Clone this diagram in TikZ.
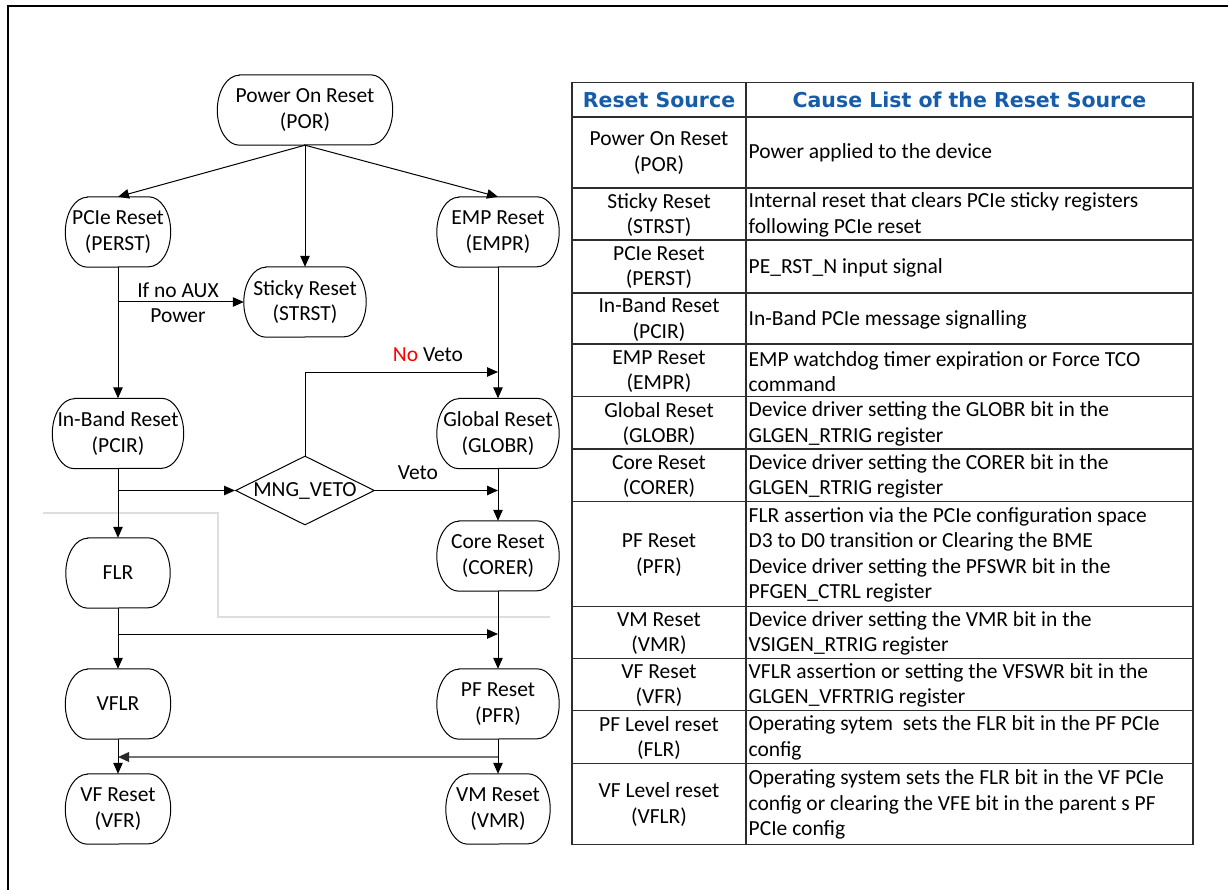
\documentclass[tikz,border=0pt]{standalone}
\usepackage{fontspec}
\setmainfont{Carlito}
\newfontfamily\hdrfont{DejaVu Sans}
\usetikzlibrary{shapes.geometric,arrows.meta}
\definecolor{hdrblue}{RGB}{22,92,168}
\definecolor{tblline}{RGB}{45,45,45}
\definecolor{faintgray}{RGB}{222,222,222}
\definecolor{midgray}{RGB}{115,115,115}
\definecolor{tipgray}{RGB}{40,40,40}
\begin{document}
\begin{tikzpicture}[x=1pt,y=-1pt,
  every node/.style={font=\fontsize{21.5}{25.3}\selectfont},
  tbox/.style={draw=none, minimum height=70pt, inner sep=0pt, align=center},
  outline/.style={line width=1pt},
  conn/.style={line width=1pt, -{Triangle[length=11pt,width=9.5pt]}},
  grayconn/.style={line width=1.8pt, draw=midgray, -{Triangle[length=11pt,width=9.5pt,color=tipgray]}},
  faint/.style={line width=1.6pt, draw=faintgray},
  tbl/.style={line width=1.1pt, draw=tblline},
  cellA/.style={align=center, inner sep=0pt},
  cellB/.style={align=left, anchor=west, inner sep=0pt},
  hdr/.style={font=\hdrfont\bfseries\fontsize{20.5}{24}\selectfont, text=hdrblue, inner sep=0pt}
]
\useasboundingbox (0,0) rectangle (1228,890);
% frame
\draw[line width=2pt] (1228,6) -- (8,6) -- (8,890);

% faint gray polyline
\draw[faint] (43,513) -- (218,513) -- (218,617) -- (550,617);

% ---------- flow nodes ----------
\node[tbox, minimum width=175pt] (por) at (305,110) {Power On Reset\\(POR)};
\node[tbox, minimum width=105pt] (perst) at (118,232) {PCIe Reset\\(PERST)};
\node[tbox, minimum width=122pt] (strst) at (305,302) {Sticky Reset\\(STRST)};
\node[tbox, minimum width=122pt] (empr) at (498,232) {EMP Reset\\(EMPR)};
\node[tbox, minimum width=131pt] (pcir) at (118,433.5) {In-Band Reset\\(PCIR)};
\node[tbox, minimum width=122pt] (globr) at (498,433.5) {Global Reset\\(GLOBR)};
\node[draw, diamond, aspect=2, minimum width=139pt, minimum height=69pt, inner sep=0pt, line width=1pt] (veto) at (305,490.5) {MNG\_VETO};
\node[tbox, minimum width=104pt] (flr) at (118,573) {FLR};
\node[tbox, minimum width=122pt] (corer) at (498,556) {Core Reset\\(CORER)};
\node[tbox, minimum width=105pt] (vflr) at (118,704) {VFLR};
\node[tbox, minimum width=122pt] (pfr) at (498,704) {PF Reset\\(PFR)};
\node[tbox, minimum width=105pt] (vfr) at (118,809) {VF Reset\\(VFR)};
\node[tbox, minimum width=104pt] (vmr) at (498,809) {VM Reset\\(VMR)};

\foreach \n in {por,perst,strst,empr,pcir,globr,flr,corer,vflr,pfr,vfr,vmr}{
  \draw[outline] ([xshift=22pt]\n.north west) -- ([xshift=-22pt]\n.north east)
    arc[start angle=90,end angle=-90,x radius=22pt,y radius=35pt]
    -- ([xshift=22pt]\n.south west)
    arc[start angle=270,end angle=90,x radius=22pt,y radius=35pt] -- cycle;
}

% junction coordinates
\coordinate (aux) at (118,302);
\coordinate (vetoin) at (118,490.5);
\coordinate (nv1) at (305,372);
\coordinate (nv2) at (498,372);
\coordinate (vetoend) at (498,490.5);
\coordinate (flrsplit) at (118,634);
\coordinate (pfend) at (498,634);
\coordinate (pfsplit) at (498,757);
\coordinate (vfend) at (118,757);

% ---------- connectors ----------
\draw[conn] (por.south) -- (perst.north);
\draw[conn] (por.south) -- (strst.north);
\draw[conn] (por.south) -- (empr.north);
\draw[conn] (perst.south) -- (pcir.north);
\draw[conn] (aux) -- (strst.west);
\draw[conn] (empr.south) -- (globr.north);
\draw[conn] (pcir.south) -- (flr.north);
\draw[conn] (vetoin) -- (veto.west);
\draw[conn] (veto.north) -- (nv1) -- (nv2);
\draw[conn] (veto.east) -- (vetoend);
\draw[conn] (globr.south) -- (corer.north);
\draw[conn] (flr.south) -- (vflr.north);
\draw[conn] (flrsplit) -- (pfend);
\draw[conn] (corer.south) -- (pfr.north);
\draw[conn] (pfr.south) -- (vmr.north);
\draw[conn] (vflr.south) -- (vfr.north);
\draw[grayconn] (pfsplit) -- (vfend);

% labels
\node[align=center, inner sep=0pt] (auxlbl) at (178,302.5) {If no AUX\\Power};
\node[inner sep=0pt] (nvlbl) at (428,355) {\textcolor{red}{No} Veto};
\node[inner sep=0pt] (vlbl) at (418,473) {Veto};

% ---------- table ----------
\draw[tbl] (572,82.7) rectangle (1193,844.3);
\draw[tbl] (746,82.7) -- (746,844.3);
\foreach \yy in {117,188,240,293,344,396.7,449,501.7,606.7,658.3,710.7,763.3}{
  \draw[tbl] (572,\yy) -- (1193,\yy);
}
\node[hdr] (h1) at (659,100) {Reset Source};
\node[hdr] (h2) at (969.5,100) {Cause List of the Reset Source};

\node[cellA] (a1) at (659,153) {Power On Reset\\(POR)};
\node[cellB] (b1) at (748.5,153) {Power applied to the device};
\node[cellA] (a2) at (659,215) {Sticky Reset\\(STRST)};
\node[cellB] (b2) at (748.5,215) {Internal reset that clears PCIe sticky registers\\following PCIe reset};
\node[cellA] (a3) at (659,267.5) {PCIe Reset\\(PERST)};
\node[cellB] (b3) at (748.5,267.5) {PE\_RST\_N input signal};
\node[cellA] (a4) at (659,319.5) {In-Band Reset\\(PCIR)};
\node[cellB] (b4) at (748.5,319.5) {In-Band PCIe message signalling};
\node[cellA] (a5) at (659,371.3) {EMP Reset\\(EMPR)};
\node[cellB] (b5) at (748.5,371.3) {EMP watchdog timer expiration or Force TCO\\command};
\node[cellA] (a6) at (659,423.8) {Global Reset\\(GLOBR)};
\node[cellB] (b6) at (748.5,423.8) {Device driver setting the GLOBR bit in the\\GLGEN\_RTRIG register};
\node[cellA] (a7) at (659,476.3) {Core Reset\\(CORER)};
\node[cellB] (b7) at (748.5,476.3) {Device driver setting the CORER bit in the\\GLGEN\_RTRIG register};
\node[cellA] (a8) at (659,555) {PF Reset\\(PFR)\hspace{25pt}};
\node[cellB] (b8) at (748.5,555) {FLR assertion via the PCIe configuration space\\D3 to D0 transition or Clearing the BME\\Device driver setting the PFSWR bit in the\\PFGEN\_CTRL register};
\node[cellA] (a9) at (659,633.5) {VM Reset\\(VMR)};
\node[cellB] (b9) at (748.5,633.5) {Device driver setting the VMR bit in the\\VSIGEN\_RTRIG register};
\node[cellA] (a10) at (659,685.5) {VF Reset\\(VFR)};
\node[cellB] (b10) at (748.5,685.5) {VFLR assertion or setting the VFSWR bit in the\\GLGEN\_VFRTRIG register};
\node[cellA] (a11) at (659,738) {PF Level reset\\(FLR)};
\node[cellB] (b11) at (748.5,738) {Operating sytem\ \ sets the FLR bit in the PF PCIe\\config};
\node[cellA] (a12) at (659,804.5) {VF Level reset\\(VFLR)};
\node[cellB] (b12) at (748.5,804.5) {Operating system sets the FLR bit in the VF PCIe\\config or clearing the VFE bit in the parent s PF\\PCIe config};
\end{tikzpicture}
\end{document}
